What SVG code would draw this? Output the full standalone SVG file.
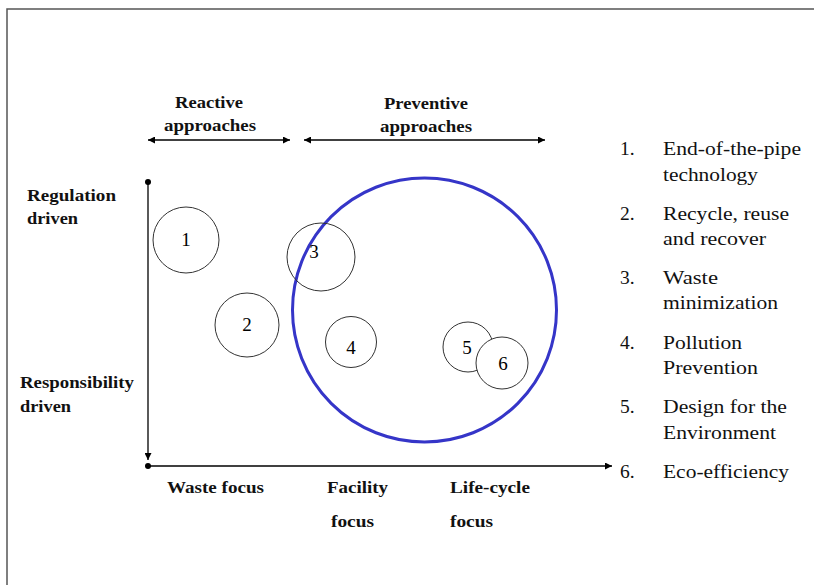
<svg xmlns="http://www.w3.org/2000/svg" width="814" height="585" viewBox="0 0 814 585">
<defs>
<marker id="ah" viewBox="0 0 10 10" refX="10" refY="5" markerWidth="9" markerHeight="7" markerUnits="userSpaceOnUse" orient="auto-start-reverse">
<path d="M0,0 L10,5 L0,10 z" fill="#000"/>
</marker>
<marker id="dot" viewBox="0 0 10 10" refX="5" refY="5" markerWidth="6" markerHeight="6" markerUnits="userSpaceOnUse">
<circle cx="5" cy="5" r="5" fill="#000"/>
</marker>
</defs>
<style>
.lbl{font-family:"Liberation Serif","Times New Roman",serif;font-weight:bold;font-size:16.5px;fill:#111}
.lst{font-family:"Liberation Serif","Times New Roman",serif;font-size:19.5px;fill:#111}
.num{font-family:"Liberation Serif","Times New Roman",serif;font-size:19px;fill:#000;text-anchor:middle}
.node{fill:#fff;stroke:#333;stroke-width:1}
.ax{stroke:#000;stroke-width:1.3;fill:none}
</style>
<rect width="814" height="585" fill="#fff"/>
<path d="M7,585 V9 H814" fill="none" stroke="#555" stroke-width="1.5"/>

<g id="connectors">
<line class="ax" x1="148" y1="140" x2="290" y2="140" marker-start="url(#ah)" marker-end="url(#ah)"/>
<line class="ax" x1="304" y1="140" x2="545" y2="140" marker-start="url(#ah)" marker-end="url(#ah)"/>
<line class="ax" x1="148" y1="182" x2="148" y2="460" marker-start="url(#dot)" marker-end="url(#ah)"/>
<line class="ax" x1="148" y1="466" x2="612" y2="466" marker-start="url(#dot)" marker-end="url(#ah)"/>
</g>

<g id="labels">
<text class="lbl" x="175" y="108" textLength="68" lengthAdjust="spacingAndGlyphs">Reactive</text>
<text class="lbl" x="164" y="131" textLength="92" lengthAdjust="spacingAndGlyphs">approaches</text>
<text class="lbl" x="384" y="109" textLength="84" lengthAdjust="spacingAndGlyphs">Preventive</text>
<text class="lbl" x="380" y="132" textLength="92" lengthAdjust="spacingAndGlyphs">approaches</text>
<text class="lbl" x="27" y="201" textLength="89" lengthAdjust="spacingAndGlyphs">Regulation</text>
<text class="lbl" x="27" y="224" textLength="51" lengthAdjust="spacingAndGlyphs">driven</text>
<text class="lbl" x="20" y="388" textLength="114" lengthAdjust="spacingAndGlyphs">Responsibility</text>
<text class="lbl" x="20" y="412" textLength="51" lengthAdjust="spacingAndGlyphs">driven</text>
<text class="lbl" x="167" y="493" textLength="97" lengthAdjust="spacingAndGlyphs">Waste focus</text>
<text class="lbl" x="327" y="493" textLength="61" lengthAdjust="spacingAndGlyphs">Facility</text>
<text class="lbl" x="331" y="527" textLength="43" lengthAdjust="spacingAndGlyphs">focus</text>
<text class="lbl" x="450" y="493" textLength="80" lengthAdjust="spacingAndGlyphs">Life-cycle</text>
<text class="lbl" x="450" y="527" textLength="43" lengthAdjust="spacingAndGlyphs">focus</text>
</g>

<g id="preventive-circle">
<circle cx="424.5" cy="310" r="132" fill="none" stroke="#3535c8" stroke-width="3"/>
</g>

<g id="node1"><circle class="node" cx="186" cy="240" r="33"/><text class="num" x="186" y="246">1</text></g>
<g id="node2"><circle class="node" cx="247" cy="325" r="32" fill="none"/><text class="num" x="247" y="331">2</text></g>
<g id="node3"><circle cx="321" cy="257" r="34" fill="none" stroke="#333" stroke-width="1"/><text class="num" x="314" y="258">3</text></g>
<g id="node4"><circle class="node" cx="351" cy="342" r="25.5"/><text class="num" x="351" y="354">4</text></g>
<g id="node5"><circle class="node" cx="468" cy="347" r="25"/><text class="num" x="467" y="354">5</text></g>
<g id="node6"><circle class="node" cx="502" cy="363" r="26"/><text class="num" x="503" y="370">6</text></g>

<g id="legend">
<text class="lst" x="620" y="155">1.</text><text class="lst" x="663" y="155" textLength="138" lengthAdjust="spacingAndGlyphs">End-of-the-pipe</text><text class="lst" x="663" y="181" textLength="95" lengthAdjust="spacingAndGlyphs">technology</text>
<text class="lst" x="620" y="220">2.</text><text class="lst" x="663" y="220" textLength="126" lengthAdjust="spacingAndGlyphs">Recycle, reuse</text><text class="lst" x="663" y="245" textLength="103" lengthAdjust="spacingAndGlyphs">and recover</text>
<text class="lst" x="620" y="284">3.</text><text class="lst" x="663" y="284" textLength="55" lengthAdjust="spacingAndGlyphs">Waste</text><text class="lst" x="663" y="309" textLength="115" lengthAdjust="spacingAndGlyphs">minimization</text>
<text class="lst" x="620" y="349">4.</text><text class="lst" x="663" y="349" textLength="79" lengthAdjust="spacingAndGlyphs">Pollution</text><text class="lst" x="663" y="374" textLength="95" lengthAdjust="spacingAndGlyphs">Prevention</text>
<text class="lst" x="620" y="413">5.</text><text class="lst" x="663" y="413" textLength="124" lengthAdjust="spacingAndGlyphs">Design for the</text><text class="lst" x="663" y="439" textLength="113" lengthAdjust="spacingAndGlyphs">Environment</text>
<text class="lst" x="620" y="478">6.</text><text class="lst" x="663" y="478" textLength="126" lengthAdjust="spacingAndGlyphs">Eco-efficiency</text>
</g>
</svg>
